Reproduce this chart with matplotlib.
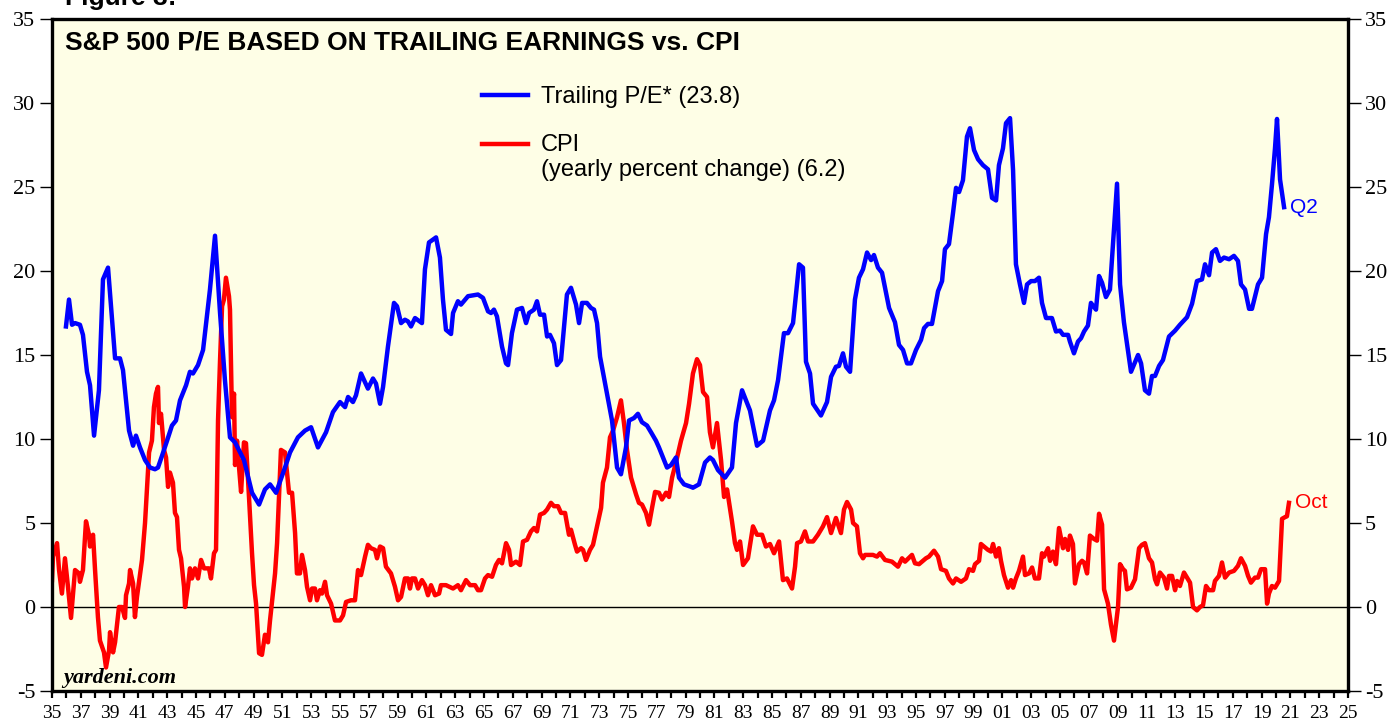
import matplotlib.pyplot as plt

plt.rcParams['axes.unicode_minus'] = False

# trailing P/E (decimal years)
pe_years = [
    1935.97, 1936.18, 1936.39, 1936.60, 1936.94, 1937.15, 1937.43, 1937.64, 1937.92, 1938.26,
    1938.54, 1938.89, 1939.38, 1939.72, 1939.93, 1940.35, 1940.63, 1940.83, 1941.11, 1941.46,
    1941.81, 1942.15, 1942.36, 1942.64, 1942.99, 1943.33, 1943.61, 1943.89, 1944.31, 1944.58,
    1944.79, 1945.14, 1945.49, 1945.97, 1946.32, 1946.67, 1947.01, 1947.36, 1947.71, 1948.33,
    1948.89, 1949.38, 1949.79, 1950.14, 1950.56, 1951.18, 1951.53, 1952.08, 1952.57, 1952.99,
    1953.47, 1954.03, 1954.51, 1955.00, 1955.35, 1955.56, 1955.90, 1956.11, 1956.46, 1956.94,
    1957.29, 1957.50, 1957.78, 1957.99, 1958.33, 1958.75, 1958.96, 1959.24, 1959.51, 1959.72,
    1959.93, 1960.21, 1960.69, 1960.90, 1961.18, 1961.67, 1961.94, 1962.15, 1962.36, 1962.71,
    1962.85, 1963.19, 1963.40, 1963.89, 1964.58, 1964.93, 1965.28, 1965.49, 1965.69, 1965.90,
    1966.25, 1966.53, 1966.67, 1966.94, 1967.29, 1967.64, 1967.92, 1968.13, 1968.47, 1968.68,
    1968.89, 1969.17, 1969.38, 1969.58, 1969.86, 1970.07, 1970.35, 1970.76, 1971.04, 1971.39,
    1971.60, 1971.81, 1972.15, 1972.43, 1972.64, 1972.85, 1973.06, 1973.54, 1973.89, 1974.24,
    1974.51, 1974.86, 1975.07, 1975.42, 1975.69, 1975.97, 1976.32, 1976.60, 1976.94, 1977.15,
    1977.36, 1977.71, 1977.99, 1978.33, 1978.54, 1978.89, 1979.38, 1979.51, 1979.93, 1980.35,
    1980.69, 1980.90, 1981.25, 1981.74, 1982.22, 1982.50, 1982.92, 1983.47, 1983.96, 1984.38,
    1984.86, 1985.14, 1985.42, 1985.83, 1986.11, 1986.46, 1986.88, 1987.15, 1987.36, 1987.64,
    1987.85, 1988.40, 1988.82, 1989.10, 1989.44, 1989.65, 1989.93, 1990.14, 1990.42, 1990.76,
    1991.04, 1991.32, 1991.60, 1991.88, 1992.08, 1992.36, 1992.64, 1993.13, 1993.54, 1993.82,
    1994.10, 1994.38, 1994.65, 1995.00, 1995.35, 1995.56, 1995.83, 1996.11, 1996.53, 1996.81,
    1997.01, 1997.29, 1997.57, 1997.78, 1997.99, 1998.26, 1998.54, 1998.75, 1999.03, 1999.31,
    1999.65, 2000.00, 2000.28, 2000.56, 2000.76, 2001.04, 2001.25, 2001.53, 2001.74, 2001.94,
    2002.22, 2002.50, 2002.71, 2002.99, 2003.26, 2003.54, 2003.75, 2004.03, 2004.44, 2004.72,
    2005.00, 2005.21, 2005.56, 2005.69, 2005.97, 2006.25, 2006.46, 2006.67, 2006.94, 2007.15,
    2007.50, 2007.71, 2007.92, 2008.19, 2008.47, 2008.96, 2009.17, 2009.44, 2009.93, 2010.42,
    2010.63, 2010.90, 2011.18, 2011.39, 2011.60, 2011.88, 2012.15, 2012.57, 2012.99, 2013.33,
    2013.82, 2014.17, 2014.51, 2014.86, 2015.07, 2015.35, 2015.56, 2015.83, 2016.11, 2016.39,
    2016.74, 2017.08, 2017.36, 2017.57, 2017.85, 2018.13, 2018.33, 2018.75, 2019.03, 2019.31,
    2019.51, 2019.72, 2019.93, 2020.07, 2020.28, 2020.56,
]
pe_values = [
    16.7, 18.3, 16.8, 16.9, 16.8, 16.2, 14.0, 13.2, 10.2, 12.9,
    19.5, 20.2, 14.8, 14.8, 14.1, 10.5, 9.6, 10.2, 9.5, 8.75,
    8.3, 8.2, 8.3, 9.0, 9.9, 10.8, 11.1, 12.3, 13.2, 14.0,
    13.9, 14.4, 15.3, 18.9, 22.1, 17.5, 13.5, 10.1, 9.8, 8.75,
    6.8, 6.1, 7.0, 7.3, 6.8, 8.3, 9.2, 10.1, 10.5, 10.7,
    9.5, 10.4, 11.6, 12.2, 11.9, 12.5, 12.2, 12.6, 13.9, 13.0,
    13.6, 13.3, 12.1, 13.1, 15.5, 18.1, 17.9, 16.9, 17.1, 17.0,
    16.7, 17.2, 16.9, 20.1, 21.7, 22.0, 20.8, 18.3, 16.5, 16.25,
    17.5, 18.2, 18.0, 18.5, 18.6, 18.4, 17.6, 17.5, 17.7, 17.3,
    15.5, 14.5, 14.4, 16.3, 17.7, 17.8, 16.9, 17.5, 17.7, 18.2,
    17.4, 17.4, 16.1, 16.2, 15.7, 14.4, 14.7, 18.6, 19.0, 18.0,
    16.9, 18.1, 18.1, 17.8, 17.7, 16.9, 14.9, 12.7, 11.1, 8.3,
    7.9, 9.5, 11.1, 11.25, 11.5, 11.0, 10.8, 10.4, 9.9, 9.5,
    9.05, 8.3, 8.45, 8.9, 7.7, 7.3, 7.15, 7.1, 7.3, 8.6,
    8.9, 8.75, 8.15, 7.7, 8.3, 10.95, 12.9, 11.7, 9.6, 9.9,
    11.7, 12.3, 13.5, 16.3, 16.3, 16.9, 20.4, 20.2, 14.6, 13.9,
    12.1, 11.4, 12.2, 13.7, 14.3, 14.35, 15.1, 14.3, 14.0, 18.3,
    19.6, 20.1, 21.1, 20.65, 20.95, 20.2, 19.9, 17.8, 16.95, 15.6,
    15.3, 14.5, 14.5, 15.3, 15.9, 16.6, 16.85, 16.85, 18.8, 19.4,
    21.3, 21.6, 23.45, 24.95, 24.7, 25.4, 28.0, 28.5, 27.2, 26.65,
    26.3, 26.05, 24.35, 24.2, 26.3, 27.3, 28.8, 29.1, 26.0, 20.4,
    19.2, 18.1, 19.2, 19.4, 19.4, 19.6, 18.1, 17.2, 17.2, 16.4,
    16.45, 16.2, 16.2, 15.8, 15.1, 15.8, 16.0, 16.4, 16.75, 18.1,
    17.7, 19.7, 19.3, 18.45, 18.9, 25.2, 19.2, 16.95, 14.0, 15.0,
    14.5, 12.9, 12.7, 13.75, 13.75, 14.35, 14.7, 16.1, 16.45, 16.8,
    17.25, 18.05, 19.4, 19.5, 20.4, 19.75, 21.1, 21.3, 20.6, 20.8,
    20.7, 20.9, 20.6, 19.2, 18.9, 17.75, 17.75, 19.2, 19.6, 22.2,
    23.2, 25.15, 27.3, 29.05, 25.45, 23.8,
]

# CPI, yearly percent change
cpi_years = [
    1935.00, 1935.07, 1935.35, 1935.49, 1935.69, 1935.90, 1936.11, 1936.32, 1936.60, 1936.88,
    1936.94, 1937.15, 1937.36, 1937.57, 1937.64, 1937.85, 1937.99, 1938.19, 1938.33, 1938.61,
    1938.75, 1938.96, 1939.03, 1939.24, 1939.38, 1939.65, 1939.86, 1940.07, 1940.14, 1940.35,
    1940.42, 1940.63, 1940.76, 1940.90, 1941.04, 1941.25, 1941.46, 1941.74, 1941.94, 1942.08,
    1942.22, 1942.36, 1942.43, 1942.57, 1942.78, 1942.92, 1943.06, 1943.19, 1943.40, 1943.54,
    1943.68, 1943.82, 1943.96, 1944.17, 1944.24, 1944.44, 1944.58, 1944.72, 1944.93, 1945.14,
    1945.35, 1945.56, 1945.90, 1946.04, 1946.25, 1946.39, 1946.53, 1946.67, 1946.81, 1946.94,
    1947.08, 1947.29, 1947.36, 1947.50, 1947.64, 1947.71, 1947.85, 1947.99, 1948.13, 1948.33,
    1948.47, 1948.68, 1948.89, 1949.03, 1949.17, 1949.38, 1949.58, 1949.79, 1950.00, 1950.14,
    1950.49, 1950.63, 1950.90, 1951.18, 1951.46, 1951.67, 1951.88, 1952.01, 1952.22, 1952.36,
    1952.57, 1952.71, 1952.92, 1953.06, 1953.26, 1953.40, 1953.61, 1953.75, 1953.96, 1954.10,
    1954.38, 1954.65, 1955.00, 1955.21, 1955.42, 1955.76, 1956.04, 1956.25, 1956.46, 1956.74,
    1956.94, 1957.15, 1957.43, 1957.57, 1957.78, 1957.99, 1958.19, 1958.54, 1958.82, 1959.03,
    1959.24, 1959.51, 1959.72, 1959.86, 1960.00, 1960.21, 1960.42, 1960.69, 1960.90, 1961.11,
    1961.32, 1961.60, 1961.88, 1962.01, 1962.36, 1962.85, 1963.19, 1963.40, 1963.75, 1964.03,
    1964.38, 1964.58, 1964.79, 1965.07, 1965.28, 1965.56, 1965.83, 1966.04, 1966.25, 1966.53,
    1966.74, 1966.88, 1967.22, 1967.50, 1967.71, 1967.99, 1968.26, 1968.47, 1968.68, 1968.89,
    1969.17, 1969.38, 1969.65, 1969.86, 1970.14, 1970.35, 1970.63, 1970.90, 1971.04, 1971.32,
    1971.46, 1971.74, 1971.88, 1972.08, 1972.36, 1972.57, 1972.85, 1973.13, 1973.26, 1973.54,
    1973.75, 1973.96, 1974.24, 1974.51, 1974.72, 1974.93, 1975.21, 1975.56, 1975.76, 1975.97,
    1976.25, 1976.46, 1976.67, 1976.88, 1977.15, 1977.36, 1977.64, 1977.85, 1978.06, 1978.33,
    1978.68, 1979.03, 1979.24, 1979.51, 1979.79, 1980.00, 1980.21, 1980.49, 1980.69, 1980.90,
    1981.18, 1981.46, 1981.67, 1981.88, 1982.22, 1982.43, 1982.57, 1982.78, 1982.99, 1983.33,
    1983.68, 1983.96, 1984.31, 1984.58, 1984.86, 1985.14, 1985.49, 1985.76, 1986.04, 1986.39,
    1986.60, 1986.74, 1987.01, 1987.29, 1987.50, 1987.85, 1988.19, 1988.54, 1988.82, 1989.10,
    1989.44, 1989.79, 1990.00, 1990.21, 1990.49, 1990.63, 1990.90, 1991.11, 1991.32, 1991.46,
    1991.67, 1992.01, 1992.29, 1992.50, 1992.85, 1993.33, 1993.75, 1994.03, 1994.24, 1994.72,
    1994.93, 1995.21, 1995.49, 1995.69, 1995.90, 1996.25, 1996.53, 1996.74, 1997.08, 1997.29,
    1997.57, 1997.78, 1998.13, 1998.47, 1998.68, 1998.96, 1999.10, 1999.38, 1999.51, 1999.72,
    2000.00, 2000.21, 2000.35, 2000.56, 2000.76, 2000.90, 2001.11, 2001.39, 2001.60, 2001.74,
    2001.94, 2002.15, 2002.43, 2002.57, 2002.85, 2003.06, 2003.26, 2003.54, 2003.75, 2003.89,
    2004.17, 2004.31, 2004.51, 2004.72, 2004.93, 2005.21, 2005.35, 2005.56, 2005.69, 2005.90,
    2006.04, 2006.32, 2006.53, 2006.67, 2006.88, 2007.08, 2007.36, 2007.57, 2007.71, 2007.92,
    2008.06, 2008.33, 2008.54, 2008.75, 2009.03, 2009.17, 2009.38, 2009.51, 2009.65, 2009.93,
    2010.21, 2010.49, 2010.69, 2010.90, 2011.18, 2011.39, 2011.60, 2011.74, 2011.94, 2012.22,
    2012.43, 2012.57, 2012.78, 2012.99, 2013.13, 2013.33, 2013.61, 2013.82, 2014.03, 2014.24,
    2014.51, 2014.72, 2014.93, 2015.14, 2015.35, 2015.63, 2015.76, 2016.04, 2016.25, 2016.46,
    2016.74, 2017.08, 2017.36, 2017.57, 2017.85, 2018.06, 2018.26, 2018.54, 2018.75, 2018.96,
    2019.24, 2019.38, 2019.51, 2019.72, 2019.93, 2020.21, 2020.42, 2020.63, 2020.76, 2020.90,
]
cpi_values = [
    1.6, 3.0, 3.8, 2.2, 0.8, 2.9, 1.2, -0.65, 2.2, 2.0,
    1.5, 2.2, 5.1, 4.3, 3.6, 4.3, 2.2, -0.6, -2.0, -2.7,
    -3.6, -2.6, -1.5, -2.7, -2.1, 0.0, 0.0, -0.65, 0.7, 1.4,
    2.2, 1.4, -0.6, 0.6, 1.5, 2.8, 5.0, 9.2, 9.9, 11.9,
    12.7, 13.1, 10.95, 11.5, 9.35, 8.9, 7.15, 8.0, 7.4, 5.6,
    5.35, 3.4, 2.9, 1.2, 0.0, 1.2, 2.3, 1.7, 2.3, 1.7,
    2.8, 2.3, 2.3, 1.7, 3.2, 3.4, 11.1, 14.7, 17.9, 18.3,
    19.6, 18.5, 17.7, 11.3, 12.7, 8.45, 9.9, 8.3, 6.85, 9.8,
    9.75, 6.55, 3.2, 1.3, 0.2, -2.75, -2.85, -1.65, -2.1, -0.8,
    2.0, 3.8, 9.35, 9.2, 6.8, 6.8, 4.4, 2.0, 2.0, 3.1,
    2.2, 1.2, 0.4, 1.1, 1.1, 0.4, 1.0, 0.8, 1.5, 0.7,
    0.2, -0.8, -0.8, -0.5, 0.3, 0.4, 0.4, 2.2, 1.9, 3.0,
    3.7, 3.5, 3.4, 2.9, 3.6, 3.5, 2.4, 2.0, 1.2, 0.4,
    0.6, 1.7, 1.7, 1.1, 1.7, 1.7, 1.1, 1.6, 1.3, 0.7,
    1.3, 0.7, 0.8, 1.3, 1.3, 1.1, 1.3, 1.0, 1.6, 1.3,
    1.3, 1.0, 1.0, 1.7, 1.9, 1.8, 2.5, 2.8, 2.6, 3.8,
    3.4, 2.5, 2.7, 2.5, 3.9, 4.0, 4.5, 4.7, 4.5, 5.5,
    5.6, 5.8, 6.2, 6.0, 6.0, 5.6, 5.6, 4.3, 4.6, 3.7,
    3.3, 3.5, 3.4, 2.8, 3.4, 3.7, 4.8, 5.9, 7.4, 8.3,
    10.1, 10.5, 11.3, 12.3, 10.95, 9.35, 7.7, 6.7, 6.2, 6.1,
    5.6, 4.9, 5.9, 6.85, 6.8, 6.4, 6.8, 6.55, 7.7, 8.6,
    9.9, 10.95, 12.1, 13.9, 14.75, 14.4, 12.8, 12.5, 10.4, 9.5,
    10.95, 8.75, 6.55, 7.0, 5.1, 3.8, 3.4, 3.9, 2.5, 2.9,
    4.8, 4.3, 4.3, 3.6, 3.75, 3.2, 3.9, 1.6, 1.7, 1.1,
    2.4, 3.8, 3.9, 4.5, 3.9, 3.9, 4.3, 4.8, 5.35, 4.4,
    5.3, 4.4, 5.8, 6.25, 5.8, 5.0, 4.8, 3.2, 2.9, 3.1,
    3.1, 3.1, 3.0, 3.2, 2.8, 2.7, 2.4, 2.9, 2.7, 3.1,
    2.6, 2.55, 2.75, 2.9, 3.0, 3.35, 3.0, 2.25, 2.15, 1.7,
    1.4, 1.7, 1.5, 1.7, 2.25, 2.15, 2.55, 2.75, 3.75, 3.6,
    3.4, 3.3, 3.75, 3.0, 3.5, 2.75, 1.9, 1.15, 1.6, 1.15,
    1.7, 2.15, 3.0, 1.9, 2.0, 2.35, 1.7, 1.7, 3.2, 3.0,
    3.5, 2.75, 3.3, 2.55, 4.7, 3.5, 4.05, 3.4, 4.25, 3.75,
    1.4, 2.55, 2.75, 2.65, 2.0, 4.25, 4.05, 3.95, 5.55, 4.9,
    1.05, 0.2, -1.05, -2.0, 0.0, 2.55, 2.25, 2.15, 1.05, 1.15,
    1.65, 3.5, 3.7, 3.8, 2.9, 2.65, 1.65, 1.35, 2.05, 1.75,
    1.1, 1.85, 1.85, 1.0, 1.55, 1.25, 2.05, 1.75, 1.45, 0.0,
    -0.2, 0.0, 0.1, 1.25, 1.0, 1.0, 1.55, 1.85, 2.65, 1.75,
    2.05, 2.15, 2.45, 2.9, 2.45, 1.85, 1.45, 1.75, 1.75, 2.25,
    2.25, 0.2, 0.8, 1.25, 1.15, 1.55, 5.25, 5.35, 5.4, 6.2,
]

x_ticks = list(range(1935, 2026))
x_labels = [f"{y % 100:02d}" if (y - 1935) % 2 == 0 else "" for y in x_ticks]
y_ticks = [-5, 0, 5, 10, 15, 20, 25, 30, 35]

fig = plt.figure(figsize=(13.94, 7.21), dpi=100)
ax = fig.add_axes([52 / 1394, 30 / 721, 1296 / 1394, 672 / 721])
ax.set_facecolor('#fefee6')

ax.axhline(0, color='black', lw=1, zorder=1)
ax.plot(pe_years, pe_values, color='#0000ff', lw=3.2, zorder=3)
ax.plot(cpi_years, cpi_values, color='#ff0000', lw=3.2, zorder=2)

ax.set_xlim(1935, 2025)
ax.set_ylim(-5, 35)
ax.set_xticks(x_ticks, labels=x_labels)
ax.set_yticks(y_ticks, labels=[str(v) for v in y_ticks])

for s in ax.spines.values():
    s.set_linewidth(2.4)

ax.tick_params(axis='x', direction='out', length=5, width=1.6, pad=5,
               labelsize=14)
ax.tick_params(axis='y', direction='out', length=9, width=1.0, pad=3,
               labelsize=16, left=True, right=True, labelleft=True, labelright=True)
for t in ax.xaxis.get_major_ticks() + ax.yaxis.get_major_ticks():
    t.label1.set_fontfamily('Liberation Serif')
    t.label2.set_fontfamily('Liberation Serif')

sans = 'Liberation Sans'
ax.text(0.01, 0.9655, 'S&P 500 P/E BASED ON TRAILING EARNINGS vs. CPI',
        transform=ax.transAxes, fontsize=19, fontweight='bold', family=sans, va='center')
fig.text(65 / 1394, 1 - 5 / 721, 'Figure 3:', fontsize=19, fontweight='bold',
         family=sans, va='baseline')

# legend drawn by hand
ax.plot([0.3318, 0.3673], [0.8869, 0.8869], transform=ax.transAxes, color='#0000ff', lw=3.2)
ax.plot([0.3318, 0.3673], [0.8140, 0.8140], transform=ax.transAxes, color='#ff0000', lw=3.2)
ax.text(0.3773, 0.8840, 'Trailing P/E* (23.8)', transform=ax.transAxes,
        fontsize=17, family=sans, va='center')
ax.text(0.3773, 0.8125, 'CPI', transform=ax.transAxes, fontsize=17, family=sans, va='center')
ax.text(0.3773, 0.7760, '(yearly percent change) (6.2)', transform=ax.transAxes,
        fontsize=17, family=sans, va='center')

ax.text(2020.97, 23.8, 'Q2', color='#0000ff', fontsize=15, family=sans, va='center')
ax.text(2021.32, 6.25, 'Oct', color='#ff0000', fontsize=15, family=sans, va='center')

ax.text(0.0085, 0.012, 'yardeni.com', transform=ax.transAxes, fontsize=16,
        fontweight='bold', fontstyle='italic', family='Liberation Serif', va='baseline')

fig.savefig('out.png', dpi=100)
